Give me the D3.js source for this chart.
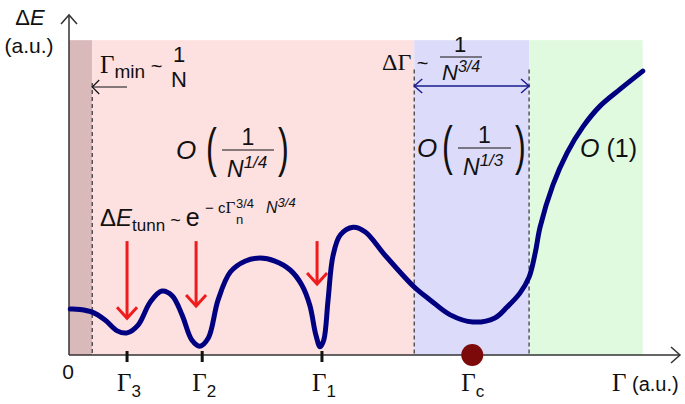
<!DOCTYPE html>
<html>
<head>
<meta charset="utf-8">
<script src="https://cdn.jsdelivr.net/npm/d3@7"></script>
<style>
  body { margin: 0; background: #fff; }
  text { font-family: "Liberation Sans", Arial, sans-serif; fill: #111; }
  .serif { font-family: "Liberation Serif", "Times New Roman", serif; }
</style>
</head>
<body>
<div id="chart"></div>
<script>
// curve: Γ (a.u.) vs ΔE (a.u.)
const gamma = [0.2, 1.8, 3.8, 5.9, 7.9, 9.5, 11.3, 13.3, 15.2, 16.9, 18.5, 20.1, 21.4, 22.8, 24.4,
  26.4, 28.8, 31.3, 33.7, 36.2, 38.1, 39.4, 40.4, 41.1, 41.7, 42.4, 43.2, 44.4, 46.5, 48.5,
  51.7, 56.5, 59.1, 62.4, 66.1, 69.7, 71.7, 73.8, 75.3, 76.3, 77.1, 79.2, 81.5, 84.1, 86.9, 90.2, 93.9]
const energy = [13.5, 13.4, 12.6, 10.3, 7.1, 6.5, 8.8, 15.6, 18.8, 17.4, 11.8, 4.4, 2.6, 5.0, 16.2,
  24.4, 27.6, 28.5, 27.6, 25.0, 20.6, 14.7, 5.9, 2.4, 4.4, 16.2, 29.1, 35.3, 37.6, 36.2,
  29.4, 20.0, 16.2, 11.8, 9.7, 10.9, 14.1, 18.2, 22.9, 30.0, 37.6, 50.0, 59.4, 67.1, 73.2, 78.2, 83.5]

// shaded regimes
const regionStart = [0, 3.8, 56.5, 75.3]
const regionEnd = [3.8, 56.5, 75.3, 93.9]
const regionColors = ['#d9b9ba', '#fde0e0', '#dcdcfa', '#e0fae0']
const regionTop = 92.6

// dashed boundaries
const boundaries = [3.8, 56.5, 75.3]
const boundaryTop = [80, 84, 84]

// special points on Γ axis
const tickGamma = [9.5, 21.8, 41.4]
const tickSub = ['3', '2', '1']
const gammaC = 66.0

// tunnelling arrows: Γ position, top and tip in ΔE
const arrowGamma = [9.5, 20.8, 40.6]
const arrowTop = [33.5, 33.5, 33.5]
const arrowTip = [10.8, 14.4, 20.9]

const width = 685, height = 404
const x = d3.scaleLinear().domain([0, 100]).range([69, 680])
const y = d3.scaleLinear().domain([0, 100]).range([355, 15])

const svg = d3.select('#chart').append('svg')
  .attr('width', width).attr('height', height)

// regions
svg.append('g').selectAll('rect')
  .data(regionStart)
  .join('rect')
  .attr('x', (d, i) => x(d))
  .attr('y', y(regionTop))
  .attr('width', (d, i) => x(regionEnd[i]) - x(d))
  .attr('height', y(0) - y(regionTop))
  .attr('fill', (d, i) => regionColors[i])

// dashed lines
svg.append('g').selectAll('line')
  .data(boundaries)
  .join('line')
  .attr('x1', d => x(d)).attr('x2', d => x(d))
  .attr('y1', (d, i) => y(boundaryTop[i])).attr('y2', y(0))
  .attr('stroke', '#333').attr('stroke-width', 1.2)
  .attr('stroke-dasharray', '4,3')

// axes
const axis = svg.append('g').attr('stroke', '#333').attr('stroke-width', 1.5).attr('fill', 'none')
axis.append('line').attr('x1', x(0)).attr('x2', x(0)).attr('y1', y(0)).attr('y2', y(100))
axis.append('path').attr('d', `M${x(0) - 8},${y(100) + 9}L${x(0)},${y(100)}L${x(0) + 8},${y(100) + 9}`)
axis.append('line').attr('x1', x(0)).attr('x2', x(100)).attr('y1', y(0)).attr('y2', y(0))
axis.append('path').attr('d', `M${x(100) - 9},${y(0) - 8}L${x(100)},${y(0)}L${x(100) - 9},${y(0) + 8}`)

// ticks
svg.append('g').selectAll('line')
  .data(tickGamma)
  .join('line')
  .attr('x1', d => x(d)).attr('x2', d => x(d))
  .attr('y1', y(0) - 4).attr('y2', y(0) + 7)
  .attr('stroke', '#111').attr('stroke-width', 3)

const tl = svg.append('g').selectAll('text')
  .data(tickGamma)
  .join('text')
  .attr('class', 'serif')
  .attr('x', d => x(d) - 10)
  .attr('y', 391)
  .attr('font-size', 25)
tl.append('tspan').text('Γ')
tl.append('tspan').attr('font-family', 'Liberation Sans, Arial').attr('font-size', 17).attr('dy', 6)
  .text((d, i) => tickSub[i])

svg.append('text').attr('x', x(0) - 1).attr('y', 379).attr('font-size', 21)
  .attr('text-anchor', 'middle').text('0')

const gc = svg.append('text').attr('class', 'serif').attr('x', x(gammaC) - 11).attr('y', 391).attr('font-size', 25)
gc.append('tspan').text('Γ')
gc.append('tspan').attr('font-family', 'Liberation Sans, Arial').attr('font-size', 17).attr('dy', 6).text('c')

const xl = svg.append('text').attr('x', 612).attr('y', 391).attr('font-size', 20)
xl.append('tspan').attr('class', 'serif').attr('font-size', 25).text('Γ')
xl.append('tspan').text(' (a.u.)')

const yl = svg.append('text').attr('x', 30).attr('y', 25).attr('font-size', 22).attr('text-anchor', 'middle')
yl.append('tspan').text('Δ')
yl.append('tspan').attr('font-style', 'italic').text('E')
svg.append('text').attr('x', 29).attr('y', 53).attr('font-size', 21).attr('text-anchor', 'middle').text('(a.u.)')

// curve
const line = d3.line()
  .x(d => x(d[0]))
  .y(d => y(d[1]))
  .curve(d3.curveCatmullRom.alpha(0.5))
svg.append('path')
  .datum(gamma.map((g, i) => [g, energy[i]]))
  .attr('d', line)
  .attr('fill', 'none')
  .attr('stroke', '#000080')
  .attr('stroke-width', 5)
  .attr('stroke-linecap', 'round')

// critical point
svg.append('circle').attr('cx', x(gammaC)).attr('cy', y(0)).attr('r', 11).attr('fill', '#7d0a0a')

// red arrows
const arrows = svg.append('g').attr('stroke', '#ee1c1c').attr('stroke-width', 3).attr('fill', 'none')
arrowGamma.forEach((g, i) => {
  const ax = x(g), t = y(arrowTop[i]), b = y(arrowTip[i])
  arrows.append('line').attr('x1', ax).attr('x2', ax).attr('y1', t).attr('y2', b)
  arrows.append('path').attr('d', `M${ax - 10},${b - 11}L${ax},${b}L${ax + 10},${b - 11}`)
})

// Γmin ~ 1/N
const gm = svg.append('text').attr('x', 100).attr('y', 73).attr('font-size', 20)
gm.append('tspan').attr('class', 'serif').attr('font-size', 25).text('Γ')
gm.append('tspan').attr('dy', 5).attr('font-size', 19).text('min')
gm.append('tspan').attr('dy', -5).text(' ~')
svg.append('text').attr('x', 179).attr('y', 62).attr('font-size', 22).attr('text-anchor', 'middle').text('1')
svg.append('text').attr('x', 179).attr('y', 87).attr('font-size', 22).attr('text-anchor', 'middle').text('N')
const la = svg.append('g').attr('stroke', '#111').attr('stroke-width', 1.2).attr('fill', 'none')
la.append('line').attr('x1', x(3.8)).attr('x2', 127).attr('y1', 87).attr('y2', 87)
la.append('path').attr('d', `M${x(3.8) + 7},80L${x(3.8)},87L${x(3.8) + 7},94`)

// ΔΓ ~ 1/N^(3/4)
const dg = svg.append('text').attr('x', 382).attr('y', 70).attr('font-size', 24)
dg.append('tspan').attr('class', 'serif').text('ΔΓ')
dg.append('tspan').attr('font-size', 20).text(' ~')
svg.append('text').attr('x', 460).attr('y', 52).attr('font-size', 22).attr('text-anchor', 'middle').text('1')
svg.append('line').attr('x1', 440).attr('x2', 482).attr('y1', 57).attr('y2', 57).attr('stroke', '#111').attr('stroke-width', 1)
const n34 = svg.append('text').attr('x', 442).attr('y', 80).attr('font-size', 22)
n34.append('tspan').attr('font-style', 'italic').text('N')
n34.append('tspan').attr('font-style', 'italic').attr('font-size', 16).attr('dy', -8).text('3/4')
const da = svg.append('g').attr('stroke', '#1a1a8c').attr('stroke-width', 1.4).attr('fill', 'none')
da.append('line').attr('x1', x(56.5)).attr('x2', x(75.3)).attr('y1', 86).attr('y2', 86)
da.append('path').attr('d', `M${x(56.5) + 8},79L${x(56.5)},86L${x(56.5) + 8},93`)
da.append('path').attr('d', `M${x(75.3) - 8},79L${x(75.3)},86L${x(75.3) - 8},93`)

// O(...) labels
function bigO(ox, cy, exp, barX1, barX2) {
  svg.append('text').attr('x', ox).attr('y', cy + 9).attr('font-size', 26).attr('font-style', 'italic').text('O')
  svg.append('text').attr('x', barX1 - 16).attr('y', cy + 16).attr('font-size', 54)
    .attr('transform', `scale(0.6,1)`)
    .attr('transform-origin', `${barX1 - 16} ${cy}`).text('(')
  svg.append('text').attr('x', barX2 + 4).attr('y', cy + 16).attr('font-size', 54)
    .attr('transform', `scale(0.6,1)`)
    .attr('transform-origin', `${barX2 + 4} ${cy}`).text(')')
  svg.append('text').attr('x', (barX1 + barX2) / 2).attr('y', cy - 5).attr('font-size', 23)
    .attr('text-anchor', 'middle').text('1')
  svg.append('line').attr('x1', barX1).attr('x2', barX2).attr('y1', cy).attr('y2', cy)
    .attr('stroke', '#111').attr('stroke-width', 1)
  const n = svg.append('text').attr('x', barX1 + 5).attr('y', cy + 27).attr('font-size', 23)
  n.append('tspan').attr('font-style', 'italic').text('N')
  n.append('tspan').attr('font-style', 'italic').attr('font-size', 17).attr('dy', -9).text(exp)
}
bigO(176, 150, '1/4', 222, 274)
bigO(417, 148, '1/3', 458, 511)
const o1 = svg.append('text').attr('x', 580).attr('y', 157).attr('font-size', 25)
o1.append('tspan').attr('font-style', 'italic').text('O')
o1.append('tspan').text(' (1)')

// ΔE_tunn ~ e^{-cΓn^{3/4} N^{3/4}}
const et = svg.append('text').attr('x', 100).attr('y', 226).attr('font-size', 24)
et.append('tspan').text('Δ')
et.append('tspan').attr('font-style', 'italic').text('E')
et.append('tspan').attr('font-size', 17).attr('dy', 5).text('tunn')
et.append('tspan').attr('font-size', 18).attr('dy', -5).text(' ~ ')
et.append('tspan').attr('font-size', 25).text('e')
const ex = svg.append('text').attr('x', 205).attr('y', 213).attr('font-size', 15)
ex.append('tspan').text('− c')
ex.append('tspan').attr('class', 'serif').attr('font-size', 17).text('Γ')
svg.append('text').attr('x', 236).attr('y', 208).attr('font-size', 13).text('3/4')
svg.append('text').attr('x', 236).attr('y', 224).attr('font-size', 13).text('n')
const en = svg.append('text').attr('x', 266).attr('y', 213).attr('font-size', 16).attr('font-style', 'italic')
en.append('tspan').text('N')
en.append('tspan').attr('font-size', 13).attr('dy', -6).text('3/4')
</script>
</body>
</html>
